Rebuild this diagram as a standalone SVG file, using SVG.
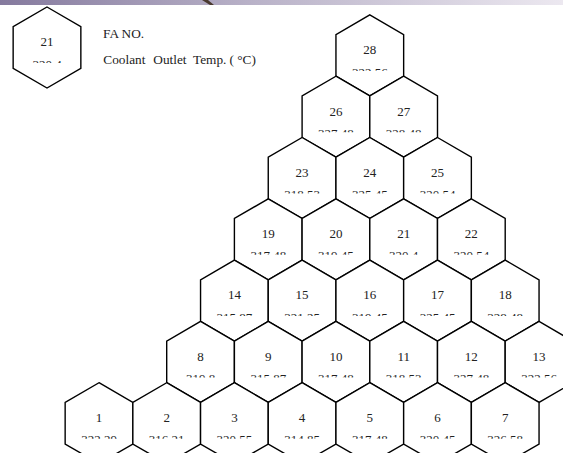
<svg xmlns="http://www.w3.org/2000/svg" width="563" height="453" viewBox="0 0 563 453">
<style>
.hx{fill:#fff;stroke:#000;stroke-width:1.4;stroke-linejoin:miter}
.t{font-family:"Liberation Serif","Times New Roman",serif;font-size:13px;fill:#222;text-anchor:middle}
.lg{font-family:"Liberation Serif","Times New Roman",serif;font-size:13.3px;fill:#222}
</style>
<defs>
<linearGradient id="band" x1="0" y1="0" x2="1" y2="0">
<stop offset="0" stop-color="#857a9e"/>
<stop offset="0.45" stop-color="#b9b2c8"/>
<stop offset="1" stop-color="#ece8f0"/>
</linearGradient>
<polygon id="hex" class="hx" points="0,-40.5 33.85,-20.8 33.85,20.8 0,40.5 -33.85,20.8 -33.85,-20.8"/>
<clipPath id="cut"><rect x="-40" y="-50" width="80" height="65.5"/></clipPath>
</defs>
<rect x="0" y="0" width="563" height="5" fill="url(#band)"/>
<path d="M202,0 L210,5 L214,5 L208,0 Z" fill="#4a3a30"/>
<rect x="0" y="5" width="563" height="448" fill="#fff"/>

<g id="legend">
<g transform="translate(47,47.5)"><use href="#hex"/><text class="t" y="-1.2">21</text><text class="t" y="21.2" clip-path="url(#cut)">320.4</text></g>
<text class="lg" x="103" y="37.7">FA NO.</text>
<text class="lg" y="64"><tspan x="103.3">Coolant</tspan><tspan x="153.3">Outlet</tspan><tspan x="193">Temp.</tspan><tspan x="229.5">( °C)</tspan></text>
</g>

<g id="fa28" transform="translate(369.8,55.4)"><use href="#hex"/><text class="t" y="-1.2">28</text><text class="t" y="21.2" clip-path="url(#cut)">322.56</text></g>

<g id="fa26" transform="translate(335.95,116.7)"><use href="#hex"/><text class="t" y="-1.2">26</text><text class="t" y="21.2" clip-path="url(#cut)">327.48</text></g>
<g id="fa27" transform="translate(403.65,116.7)"><use href="#hex"/><text class="t" y="-1.2">27</text><text class="t" y="21.2" clip-path="url(#cut)">328.48</text></g>

<g id="fa23" transform="translate(302.1,178)"><use href="#hex"/><text class="t" y="-1.2">23</text><text class="t" y="21.2" clip-path="url(#cut)">318.53</text></g>
<g id="fa24" transform="translate(369.8,178)"><use href="#hex"/><text class="t" y="-1.2">24</text><text class="t" y="21.2" clip-path="url(#cut)">325.45</text></g>
<g id="fa25" transform="translate(437.5,178)"><use href="#hex"/><text class="t" y="-1.2">25</text><text class="t" y="21.2" clip-path="url(#cut)">320.54</text></g>

<g id="fa19" transform="translate(268.25,239.3)"><use href="#hex"/><text class="t" y="-1.2">19</text><text class="t" y="21.2" clip-path="url(#cut)">317.48</text></g>
<g id="fa20" transform="translate(335.95,239.3)"><use href="#hex"/><text class="t" y="-1.2">20</text><text class="t" y="21.2" clip-path="url(#cut)">319.45</text></g>
<g id="fa21" transform="translate(403.65,239.3)"><use href="#hex"/><text class="t" y="-1.2">21</text><text class="t" y="21.2" clip-path="url(#cut)">320.4</text></g>
<g id="fa22" transform="translate(471.35,239.3)"><use href="#hex"/><text class="t" y="-1.2">22</text><text class="t" y="21.2" clip-path="url(#cut)">320.54</text></g>

<g id="fa14" transform="translate(234.4,300.6)"><use href="#hex"/><text class="t" y="-1.2">14</text><text class="t" y="21.2" clip-path="url(#cut)">315.87</text></g>
<g id="fa15" transform="translate(302.1,300.6)"><use href="#hex"/><text class="t" y="-1.2">15</text><text class="t" y="21.2" clip-path="url(#cut)">321.25</text></g>
<g id="fa16" transform="translate(369.8,300.6)"><use href="#hex"/><text class="t" y="-1.2">16</text><text class="t" y="21.2" clip-path="url(#cut)">319.45</text></g>
<g id="fa17" transform="translate(437.5,300.6)"><use href="#hex"/><text class="t" y="-1.2">17</text><text class="t" y="21.2" clip-path="url(#cut)">325.45</text></g>
<g id="fa18" transform="translate(505.2,300.6)"><use href="#hex"/><text class="t" y="-1.2">18</text><text class="t" y="21.2" clip-path="url(#cut)">328.48</text></g>

<g id="fa8" transform="translate(200.55,361.9)"><use href="#hex"/><text class="t" y="-1.2">8</text><text class="t" y="21.2" clip-path="url(#cut)">319.8</text></g>
<g id="fa9" transform="translate(268.25,361.9)"><use href="#hex"/><text class="t" y="-1.2">9</text><text class="t" y="21.2" clip-path="url(#cut)">315.87</text></g>
<g id="fa10" transform="translate(335.95,361.9)"><use href="#hex"/><text class="t" y="-1.2">10</text><text class="t" y="21.2" clip-path="url(#cut)">317.48</text></g>
<g id="fa11" transform="translate(403.65,361.9)"><use href="#hex"/><text class="t" y="-1.2">11</text><text class="t" y="21.2" clip-path="url(#cut)">318.53</text></g>
<g id="fa12" transform="translate(471.35,361.9)"><use href="#hex"/><text class="t" y="-1.2">12</text><text class="t" y="21.2" clip-path="url(#cut)">327.48</text></g>
<g id="fa13" transform="translate(539.05,361.9)"><use href="#hex"/><text class="t" y="-1.2">13</text><text class="t" y="21.2" clip-path="url(#cut)">322.56</text></g>

<g id="fa1" transform="translate(99,423.2)"><use href="#hex"/><text class="t" y="-1.2">1</text><text class="t" y="21.2" clip-path="url(#cut)">322.29</text></g>
<g id="fa2" transform="translate(166.7,423.2)"><use href="#hex"/><text class="t" y="-1.2">2</text><text class="t" y="21.2" clip-path="url(#cut)">316.21</text></g>
<g id="fa3" transform="translate(234.4,423.2)"><use href="#hex"/><text class="t" y="-1.2">3</text><text class="t" y="21.2" clip-path="url(#cut)">320.55</text></g>
<g id="fa4" transform="translate(302.1,423.2)"><use href="#hex"/><text class="t" y="-1.2">4</text><text class="t" y="21.2" clip-path="url(#cut)">314.85</text></g>
<g id="fa5" transform="translate(369.8,423.2)"><use href="#hex"/><text class="t" y="-1.2">5</text><text class="t" y="21.2" clip-path="url(#cut)">317.48</text></g>
<g id="fa6" transform="translate(437.5,423.2)"><use href="#hex"/><text class="t" y="-1.2">6</text><text class="t" y="21.2" clip-path="url(#cut)">320.45</text></g>
<g id="fa7" transform="translate(505.2,423.2)"><use href="#hex"/><text class="t" y="-1.2">7</text><text class="t" y="21.2" clip-path="url(#cut)">326.58</text></g>
</svg>
